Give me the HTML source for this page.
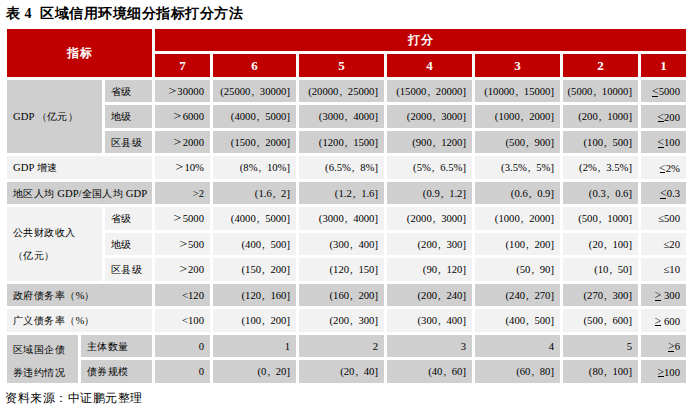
<!DOCTYPE html>
<html><head><meta charset="utf-8"><style>
html,body{margin:0;padding:0;background:#fff;width:690px;height:409px;overflow:hidden;position:relative}
body{font-family:"Liberation Serif",serif;color:#000}
.c{position:absolute;box-sizing:border-box;display:flex;align-items:center;font-size:10.67px;line-height:1;white-space:nowrap}
.h{justify-content:center;color:#fff;font-weight:bold;font-size:12px;letter-spacing:0.6px;padding-left:0.6px}
.hn{justify-content:center;color:#fff;font-weight:bold;font-size:13px;padding-bottom:1px}
.lab{padding-left:6px;color:#000}
.ml{line-height:22.5px}
.ml2{padding-top:3px;line-height:22px}
.v{justify-content:flex-end;padding-right:6px;color:#000}
.lab .k,.v .k{font-size:10px;letter-spacing:0.4px}
.ul{display:inline-block;position:relative;font-size:12px;line-height:1}
.ul::after{content:'';position:absolute;left:0.5px;right:0.5px;bottom:0.5px;height:1px;background:#000}
.ls{font-size:11px}
.cm{display:inline-block;width:9.4px;text-align:left;padding-left:1px;box-sizing:border-box}
.gt{font-size:12.5px;margin-right:1.3px;display:inline-block;transform:scaleX(1.12);transform-origin:right center}
.title{position:absolute;left:6px;top:6.5px;font-size:14px;letter-spacing:0.52px;font-weight:bold;white-space:nowrap;line-height:1}
.src{position:absolute;left:5px;top:391.5px;font-size:12px;letter-spacing:0.55px;white-space:nowrap;line-height:1}
</style></head><body>
<div class="title">表 4&nbsp; 区域信用环境细分指标打分方法</div>
<div class="c h" style="left:7px;top:29px;width:145px;height:48px;background:#c00000"><span><span class="k">指标</span></span></div>
<div class="c h" style="left:155px;top:29px;width:531px;height:22px;background:#c00000"><span><span class="k">打分</span></span></div>
<div class="c hn" style="left:155px;top:54px;width:55px;height:23px;background:#c00000"><span>7</span></div>
<div class="c hn" style="left:213px;top:54px;width:83px;height:23px;background:#c00000"><span>6</span></div>
<div class="c hn" style="left:299px;top:54px;width:85px;height:23px;background:#c00000"><span>5</span></div>
<div class="c hn" style="left:387px;top:54px;width:85px;height:23px;background:#c00000"><span>4</span></div>
<div class="c hn" style="left:475px;top:54px;width:85px;height:23px;background:#c00000"><span>3</span></div>
<div class="c hn" style="left:563px;top:54px;width:75px;height:23px;background:#c00000"><span>2</span></div>
<div class="c hn" style="left:641px;top:54px;width:45px;height:23px;background:#c00000"><span>1</span></div>
<div class="c lab" style="left:7px;top:80px;width:95px;height:73px;background:#cfcfcf"><span>GDP <span class="k">（亿元）</span></span></div>
<div class="c lab" style="left:105px;top:80px;width:47px;height:22px;background:#cfcfcf"><span><span class="k">省级</span></span></div>
<div class="c lab" style="left:105px;top:105px;width:47px;height:23px;background:#cfcfcf"><span><span class="k">地级</span></span></div>
<div class="c lab" style="left:105px;top:131px;width:47px;height:22px;background:#cfcfcf"><span><span class="k">区县级</span></span></div>
<div class="c lab" style="left:7px;top:156px;width:145px;height:23px;background:#f2f2f2"><span>GDP <span class="k">增速</span></span></div>
<div class="c lab" style="left:7px;top:182px;width:145px;height:22px;background:#cfcfcf"><span><span class="k">地区人均</span> GDP/<span class="k">全国人均</span> GDP</span></div>
<div class="c lab ml" style="left:7px;top:207px;width:95px;height:74px;background:#f2f2f2"><span><span class="k">公共财政收入</span><br><span class="k">（亿元）</span></span></div>
<div class="c lab" style="left:105px;top:207px;width:47px;height:23px;background:#f2f2f2"><span><span class="k">省级</span></span></div>
<div class="c lab" style="left:105px;top:233px;width:47px;height:22px;background:#f2f2f2"><span><span class="k">地级</span></span></div>
<div class="c lab" style="left:105px;top:258px;width:47px;height:23px;background:#f2f2f2"><span><span class="k">区县级</span></span></div>
<div class="c lab" style="left:7px;top:284px;width:145px;height:22px;background:#cfcfcf"><span><span class="k">政府债务率（</span>%<span class="k">）</span></span></div>
<div class="c lab" style="left:7px;top:309px;width:145px;height:23px;background:#f2f2f2"><span><span class="k">广义债务率（</span>%<span class="k">）</span></span></div>
<div class="c lab ml ml2" style="left:7px;top:335px;width:71px;height:48px;background:#cfcfcf"><span><span class="k">区域国企债</span><br><span class="k">券违约情况</span></span></div>
<div class="c lab" style="left:81px;top:335px;width:71px;height:22px;background:#cfcfcf"><span><span class="k">主体数量</span></span></div>
<div class="c lab" style="left:81px;top:360px;width:71px;height:23px;background:#cfcfcf"><span><span class="k">债券规模</span></span></div>
<div class="c v" style="left:155px;top:80px;width:55px;height:22px;background:#cfcfcf"><span><span class="gt">&gt;</span>30000</span></div>
<div class="c v" style="left:213px;top:80px;width:83px;height:22px;background:#cfcfcf"><span>(25000<span class="cm">,</span>30000]</span></div>
<div class="c v" style="left:299px;top:80px;width:85px;height:22px;background:#cfcfcf"><span>(20000<span class="cm">,</span>25000]</span></div>
<div class="c v" style="left:387px;top:80px;width:85px;height:22px;background:#cfcfcf"><span>(15000<span class="cm">,</span>20000]</span></div>
<div class="c v" style="left:475px;top:80px;width:85px;height:22px;background:#cfcfcf"><span>(10000<span class="cm">,</span>15000]</span></div>
<div class="c v" style="left:563px;top:80px;width:75px;height:22px;background:#cfcfcf"><span>(5000<span class="cm">,</span>10000]</span></div>
<div class="c v" style="left:641px;top:80px;width:45px;height:22px;background:#cfcfcf"><span><span class="ul">&lt;</span>5000</span></div>
<div class="c v" style="left:155px;top:105px;width:55px;height:23px;background:#cfcfcf"><span><span class="gt">&gt;</span>6000</span></div>
<div class="c v" style="left:213px;top:105px;width:83px;height:23px;background:#cfcfcf"><span>(4000<span class="cm">,</span>5000]</span></div>
<div class="c v" style="left:299px;top:105px;width:85px;height:23px;background:#cfcfcf"><span>(3000<span class="cm">,</span>4000]</span></div>
<div class="c v" style="left:387px;top:105px;width:85px;height:23px;background:#cfcfcf"><span>(2000<span class="cm">,</span>3000]</span></div>
<div class="c v" style="left:475px;top:105px;width:85px;height:23px;background:#cfcfcf"><span>(1000<span class="cm">,</span>2000]</span></div>
<div class="c v" style="left:563px;top:105px;width:75px;height:23px;background:#cfcfcf"><span>(200<span class="cm">,</span>1000]</span></div>
<div class="c v" style="left:641px;top:105px;width:45px;height:23px;background:#cfcfcf"><span><span class="ul">&lt;</span>200</span></div>
<div class="c v" style="left:155px;top:131px;width:55px;height:22px;background:#cfcfcf"><span><span class="gt">&gt;</span>2000</span></div>
<div class="c v" style="left:213px;top:131px;width:83px;height:22px;background:#cfcfcf"><span>(1500<span class="cm">,</span>2000]</span></div>
<div class="c v" style="left:299px;top:131px;width:85px;height:22px;background:#cfcfcf"><span>(1200<span class="cm">,</span>1500]</span></div>
<div class="c v" style="left:387px;top:131px;width:85px;height:22px;background:#cfcfcf"><span>(900<span class="cm">,</span>1200]</span></div>
<div class="c v" style="left:475px;top:131px;width:85px;height:22px;background:#cfcfcf"><span>(500<span class="cm">,</span>900]</span></div>
<div class="c v" style="left:563px;top:131px;width:75px;height:22px;background:#cfcfcf"><span>(100<span class="cm">,</span>500]</span></div>
<div class="c v" style="left:641px;top:131px;width:45px;height:22px;background:#cfcfcf"><span><span class="ul">&lt;</span>100</span></div>
<div class="c v" style="left:155px;top:156px;width:55px;height:23px;background:#f2f2f2"><span><span class="gt">&gt;</span>10%</span></div>
<div class="c v" style="left:213px;top:156px;width:83px;height:23px;background:#f2f2f2"><span>(8%<span class="cm">,</span>10%]</span></div>
<div class="c v" style="left:299px;top:156px;width:85px;height:23px;background:#f2f2f2"><span>(6.5%<span class="cm">,</span>8%]</span></div>
<div class="c v" style="left:387px;top:156px;width:85px;height:23px;background:#f2f2f2"><span>(5%<span class="cm">,</span>6.5%]</span></div>
<div class="c v" style="left:475px;top:156px;width:85px;height:23px;background:#f2f2f2"><span>(3.5%<span class="cm">,</span>5%]</span></div>
<div class="c v" style="left:563px;top:156px;width:75px;height:23px;background:#f2f2f2"><span>(2%<span class="cm">,</span>3.5%]</span></div>
<div class="c v" style="left:641px;top:156px;width:45px;height:23px;background:#f2f2f2"><span><span class="ul">&lt;</span>2%</span></div>
<div class="c v" style="left:155px;top:182px;width:55px;height:22px;background:#cfcfcf"><span>&gt;2</span></div>
<div class="c v" style="left:213px;top:182px;width:83px;height:22px;background:#cfcfcf"><span>(1.6<span class="cm">,</span>2]</span></div>
<div class="c v" style="left:299px;top:182px;width:85px;height:22px;background:#cfcfcf"><span>(1.2<span class="cm">,</span>1.6]</span></div>
<div class="c v" style="left:387px;top:182px;width:85px;height:22px;background:#cfcfcf"><span>(0.9<span class="cm">,</span>1.2]</span></div>
<div class="c v" style="left:475px;top:182px;width:85px;height:22px;background:#cfcfcf"><span>(0.6<span class="cm">,</span>0.9]</span></div>
<div class="c v" style="left:563px;top:182px;width:75px;height:22px;background:#cfcfcf"><span>(0.3<span class="cm">,</span>0.6]</span></div>
<div class="c v" style="left:641px;top:182px;width:45px;height:22px;background:#cfcfcf"><span><span class="ul">&lt;</span>0.3</span></div>
<div class="c v" style="left:155px;top:207px;width:55px;height:23px;background:#f2f2f2"><span><span class="gt">&gt;</span>5000</span></div>
<div class="c v" style="left:213px;top:207px;width:83px;height:23px;background:#f2f2f2"><span>(4000<span class="cm">,</span>5000]</span></div>
<div class="c v" style="left:299px;top:207px;width:85px;height:23px;background:#f2f2f2"><span>(3000<span class="cm">,</span>4000]</span></div>
<div class="c v" style="left:387px;top:207px;width:85px;height:23px;background:#f2f2f2"><span>(2000<span class="cm">,</span>3000]</span></div>
<div class="c v" style="left:475px;top:207px;width:85px;height:23px;background:#f2f2f2"><span>(1000<span class="cm">,</span>2000]</span></div>
<div class="c v" style="left:563px;top:207px;width:75px;height:23px;background:#f2f2f2"><span>(500<span class="cm">,</span>1000]</span></div>
<div class="c v" style="left:641px;top:207px;width:45px;height:23px;background:#f2f2f2"><span><span class="ls">≤</span>500</span></div>
<div class="c v" style="left:155px;top:233px;width:55px;height:22px;background:#f2f2f2"><span><span class="gt">&gt;</span>500</span></div>
<div class="c v" style="left:213px;top:233px;width:83px;height:22px;background:#f2f2f2"><span>(400<span class="cm">,</span>500]</span></div>
<div class="c v" style="left:299px;top:233px;width:85px;height:22px;background:#f2f2f2"><span>(300<span class="cm">,</span>400]</span></div>
<div class="c v" style="left:387px;top:233px;width:85px;height:22px;background:#f2f2f2"><span>(200<span class="cm">,</span>300]</span></div>
<div class="c v" style="left:475px;top:233px;width:85px;height:22px;background:#f2f2f2"><span>(100<span class="cm">,</span>200]</span></div>
<div class="c v" style="left:563px;top:233px;width:75px;height:22px;background:#f2f2f2"><span>(20<span class="cm">,</span>100]</span></div>
<div class="c v" style="left:641px;top:233px;width:45px;height:22px;background:#f2f2f2"><span><span class="ls">≤</span>20</span></div>
<div class="c v" style="left:155px;top:258px;width:55px;height:23px;background:#f2f2f2"><span><span class="gt">&gt;</span>200</span></div>
<div class="c v" style="left:213px;top:258px;width:83px;height:23px;background:#f2f2f2"><span>(150<span class="cm">,</span>200]</span></div>
<div class="c v" style="left:299px;top:258px;width:85px;height:23px;background:#f2f2f2"><span>(120<span class="cm">,</span>150]</span></div>
<div class="c v" style="left:387px;top:258px;width:85px;height:23px;background:#f2f2f2"><span>(90<span class="cm">,</span>120]</span></div>
<div class="c v" style="left:475px;top:258px;width:85px;height:23px;background:#f2f2f2"><span>(50<span class="cm">,</span>90]</span></div>
<div class="c v" style="left:563px;top:258px;width:75px;height:23px;background:#f2f2f2"><span>(10<span class="cm">,</span>50]</span></div>
<div class="c v" style="left:641px;top:258px;width:45px;height:23px;background:#f2f2f2"><span><span class="ls">≤</span>10</span></div>
<div class="c v" style="left:155px;top:284px;width:55px;height:22px;background:#cfcfcf"><span>&lt;120</span></div>
<div class="c v" style="left:213px;top:284px;width:83px;height:22px;background:#cfcfcf"><span>(120<span class="cm">,</span>160]</span></div>
<div class="c v" style="left:299px;top:284px;width:85px;height:22px;background:#cfcfcf"><span>(160<span class="cm">,</span>200]</span></div>
<div class="c v" style="left:387px;top:284px;width:85px;height:22px;background:#cfcfcf"><span>(200<span class="cm">,</span>240]</span></div>
<div class="c v" style="left:475px;top:284px;width:85px;height:22px;background:#cfcfcf"><span>(240<span class="cm">,</span>270]</span></div>
<div class="c v" style="left:563px;top:284px;width:75px;height:22px;background:#cfcfcf"><span>(270<span class="cm">,</span>300]</span></div>
<div class="c v" style="left:641px;top:284px;width:45px;height:22px;background:#cfcfcf"><span><span class="ul">&gt;</span> 300</span></div>
<div class="c v" style="left:155px;top:309px;width:55px;height:23px;background:#f2f2f2"><span>&lt;100</span></div>
<div class="c v" style="left:213px;top:309px;width:83px;height:23px;background:#f2f2f2"><span>(100<span class="cm">,</span>200]</span></div>
<div class="c v" style="left:299px;top:309px;width:85px;height:23px;background:#f2f2f2"><span>(200<span class="cm">,</span>300]</span></div>
<div class="c v" style="left:387px;top:309px;width:85px;height:23px;background:#f2f2f2"><span>(300<span class="cm">,</span>400]</span></div>
<div class="c v" style="left:475px;top:309px;width:85px;height:23px;background:#f2f2f2"><span>(400<span class="cm">,</span>500]</span></div>
<div class="c v" style="left:563px;top:309px;width:75px;height:23px;background:#f2f2f2"><span>(500<span class="cm">,</span>600]</span></div>
<div class="c v" style="left:641px;top:309px;width:45px;height:23px;background:#f2f2f2"><span><span class="ul">&gt;</span> 600</span></div>
<div class="c v" style="left:155px;top:335px;width:55px;height:22px;background:#cfcfcf"><span>0</span></div>
<div class="c v" style="left:213px;top:335px;width:83px;height:22px;background:#cfcfcf"><span>1</span></div>
<div class="c v" style="left:299px;top:335px;width:85px;height:22px;background:#cfcfcf"><span>2</span></div>
<div class="c v" style="left:387px;top:335px;width:85px;height:22px;background:#cfcfcf"><span>3</span></div>
<div class="c v" style="left:475px;top:335px;width:85px;height:22px;background:#cfcfcf"><span>4</span></div>
<div class="c v" style="left:563px;top:335px;width:75px;height:22px;background:#cfcfcf"><span>5</span></div>
<div class="c v" style="left:641px;top:335px;width:45px;height:22px;background:#cfcfcf"><span><span class="ul">&gt;</span>6</span></div>
<div class="c v" style="left:155px;top:360px;width:55px;height:23px;background:#cfcfcf"><span>0</span></div>
<div class="c v" style="left:213px;top:360px;width:83px;height:23px;background:#cfcfcf"><span>(0<span class="cm">,</span>20]</span></div>
<div class="c v" style="left:299px;top:360px;width:85px;height:23px;background:#cfcfcf"><span>(20<span class="cm">,</span>40]</span></div>
<div class="c v" style="left:387px;top:360px;width:85px;height:23px;background:#cfcfcf"><span>(40<span class="cm">,</span>60]</span></div>
<div class="c v" style="left:475px;top:360px;width:85px;height:23px;background:#cfcfcf"><span>(60<span class="cm">,</span>80]</span></div>
<div class="c v" style="left:563px;top:360px;width:75px;height:23px;background:#cfcfcf"><span>(80<span class="cm">,</span>100]</span></div>
<div class="c v" style="left:641px;top:360px;width:45px;height:23px;background:#cfcfcf"><span><span class="ul">&gt;</span>100</span></div>
<div class="src">资料来源：中证鹏元整理</div>
</body></html>
